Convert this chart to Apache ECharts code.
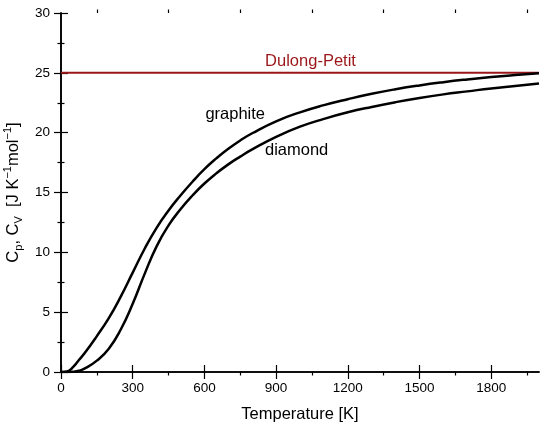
<!DOCTYPE html>
<html>
<head>
    <meta charset="utf-8">
    <title></title>
    <style>
        body{
            margin: 0;
        }
        #chart{
            width: 550px;
            height: 428px;
        }
    </style>
    <script src="https://cdn.jsdelivr.net/npm/echarts@6/dist/echarts.min.js"></script>
</head>
<body>
<div id="chart"></div>
<script>
    // temperature grid [K]
    var temps = [0, 25, 50, 75, 100, 150, 200, 250, 300, 350, 400, 450, 500, 550, 600, 650, 700, 750, 800, 900,
        1000, 1100, 1200, 1300, 1400, 1500, 1600, 1700, 1800, 1900, 2000];
    // heat capacity [J K-1 mol-1]
    var graphite = [0, 0.05, 0.4, 1.0, 1.6, 3.0, 4.5, 6.3, 8.3, 10.3, 12.05, 13.5, 14.75, 15.9, 16.95, 17.85, 18.65, 19.35, 19.95, 20.95,
        21.7, 22.3, 22.8, 23.25, 23.63, 23.95, 24.22, 24.45, 24.65, 24.82, 24.97];
    var diamond = [0, 0, 0.02, 0.1, 0.3, 0.95, 1.95, 3.55, 5.7, 8.2, 10.5, 12.25, 13.6, 14.75, 15.75, 16.6, 17.35, 18.0, 18.6, 19.65,
        20.5, 21.15, 21.7, 22.15, 22.55, 22.9, 23.2, 23.45, 23.7, 23.9, 24.1];
    var dulongPetit = 25;
    var xRange = [0, 2000];

    // tick labels
    var xMajor = [0, 300, 600, 900, 1200, 1500, 1800];
    var xMinor = [150, 450, 750, 1050, 1350, 1650, 1950];

    // text labels: [T, C, text]
    var notes = [
        [729, 21.55, 'graphite'],
        [986, 18.5, 'diamond']
    ];
    var dpNote = [1044, 25.95, 'Dulong-Petit'];

    var red = '#9b1619';
    var font = '"Liberation Sans", Arial, sans-serif';

    function pairs(xs, ys) {
        var out = [];
        for (var i = 0; i < xs.length; i++) out.push([xs[i], ys[i]]);
        return out;
    }

    var axisLine = {show: true, lineStyle: {color: '#000', width: 1.6}};
    var plain = function (v) { return String(v); };

    var option = {
        animation: false,
        textStyle: {fontFamily: font},
        grid: [
            {left: 61, right: 11, top: 13, bottom: 56, outerBoundsMode: 'none'},
            {left: 61, right: 11, top: 13, bottom: 56, outerBoundsMode: 'none'}
        ],
        xAxis: [
            {
                type: 'value', gridIndex: 0, position: 'bottom', min: xRange[0], max: xRange[1],
                name: 'Temperature [K]', nameLocation: 'middle', nameGap: 34,
                nameTextStyle: {fontSize: 16.5, color: '#000', fontFamily: font},
                axisLine: axisLine,
                axisTick: {show: true, length: 7, customValues: xMajor, lineStyle: {color: '#000', width: 1.2}},
                axisLabel: {customValues: xMajor, formatter: plain, fontSize: 13.5, color: '#000', margin: 9, fontFamily: font},
                splitLine: {show: false}
            },
            {
                type: 'value', gridIndex: 0, position: 'top', min: xRange[0], max: xRange[1],
                axisLine: axisLine,
                axisTick: {show: true, length: 7, customValues: xMajor, lineStyle: {color: '#000', width: 1.2}},
                axisLabel: {show: false},
                splitLine: {show: false}
            },
            {
                type: 'value', gridIndex: 1, position: 'bottom', min: xRange[0], max: xRange[1],
                axisLine: {show: false},
                axisTick: {show: true, length: 3.5, customValues: xMinor, lineStyle: {color: '#000', width: 1.2}},
                axisLabel: {show: false},
                splitLine: {show: false}
            },
            {
                type: 'value', gridIndex: 1, position: 'top', min: xRange[0], max: xRange[1],
                axisLine: {show: false},
                axisTick: {show: true, length: 3.5, customValues: xMinor, lineStyle: {color: '#000', width: 1.2}},
                axisLabel: {show: false},
                splitLine: {show: false}
            }
        ],
        yAxis: [
            {
                type: 'value', gridIndex: 0, position: 'left', min: 0, max: 30, interval: 5,
                name: '{a|C}{s|p}{a|, C}{s|V}{a|  [J K}{u|−1}{a|mol}{u|−1}{a|]}',
                nameLocation: 'middle', nameGap: 28, nameRotate: 90,
                nameTextStyle: {
                    color: '#000', fontFamily: font,
                    rich: {
                        a: {fontSize: 16.5, color: '#000', fontFamily: font, lineHeight: 22, verticalAlign: 'middle'},
                        s: {fontSize: 11, color: '#000', fontFamily: font, lineHeight: 11, verticalAlign: 'bottom'},
                        u: {fontSize: 11, color: '#000', fontFamily: font, lineHeight: 11, verticalAlign: 'top'}
                    }
                },
                axisLine: axisLine,
                axisTick: {show: true, length: 7, lineStyle: {color: '#000', width: 1.2}},
                minorTick: {show: true, splitNumber: 2, length: 3.5, lineStyle: {color: '#000', width: 1.2}},
                axisLabel: {fontSize: 13.5, color: '#000', margin: 11, fontFamily: font},
                splitLine: {show: false}
            },
            {
                type: 'value', gridIndex: 0, position: 'right', min: 0, max: 30, interval: 5,
                axisLine: axisLine,
                axisTick: {show: true, length: 7, lineStyle: {color: '#000', width: 1.2}},
                minorTick: {show: true, splitNumber: 2, length: 3.5, lineStyle: {color: '#000', width: 1.2}},
                axisLabel: {show: false},
                splitLine: {show: false}
            },
            {type: 'value', gridIndex: 1, min: 0, max: 30, show: false}
        ],
        series: [
            {
                name: 'Dulong-Petit', type: 'line', xAxisIndex: 0, yAxisIndex: 0,
                data: [[xRange[0], dulongPetit], [xRange[1], dulongPetit]],
                symbol: 'none', lineStyle: {color: red, width: 2}, z: 3
            },
            {
                name: 'graphite', type: 'line', xAxisIndex: 0, yAxisIndex: 0,
                data: pairs(temps, graphite), smooth: 0.5,
                symbol: 'none', lineStyle: {color: '#000', width: 2.5}, z: 4
            },
            {
                name: 'diamond', type: 'line', xAxisIndex: 0, yAxisIndex: 0,
                data: pairs(temps, diamond), smooth: 0.5,
                symbol: 'none', lineStyle: {color: '#000', width: 2.5}, z: 4
            }
        ]
    };

    var myChart = echarts.init(document.getElementById('chart'));
    myChart.setOption(option);

    // text labels placed in data coordinates
    function noteText(n, color) {
        var p = myChart.convertToPixel({gridIndex: 0}, [n[0], n[1]]);
        return {
            type: 'text', x: p[0], y: p[1], silent: true,
            style: {text: n[2], fill: color, font: '16.5px ' + font, align: 'center', verticalAlign: 'middle'}
        };
    }
    var texts = notes.map(function (n) { return noteText(n, '#000'); });
    texts.push(noteText(dpNote, red));
    myChart.setOption({graphic: texts});
</script>
</body>
</html>
